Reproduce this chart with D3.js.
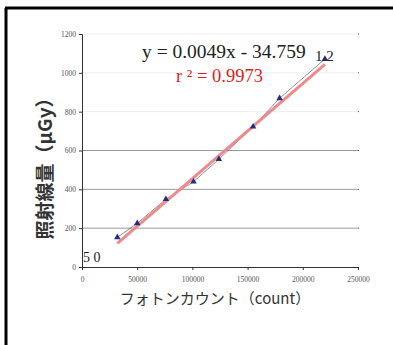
<!DOCTYPE html>
<html>
<head>
<meta charset="utf-8">
<script src="https://cdn.jsdelivr.net/npm/d3@7"></script>
<style>
  body { margin: 0; background: #fff; }
  svg { display: block; }
</style>
</head>
<body>
<div id="chart"></div>
<script>
// photon counts vs dose
const counts = [32000, 50000, 76000, 101000, 124000, 155000, 179000, 220000];
const doses = [153, 225, 349, 439, 555, 723, 869, 1071];
const xTicks = [0, 50000, 100000, 150000, 200000, 250000];
const yTicks = [0, 200, 400, 600, 800, 1000, 1200];
const slope = 0.0049;
const intercept = -34.759;

const w = 393;
const h = 345;
const svg = d3
  .select("#chart")
  .append("svg")
  .attr("width", w)
  .attr("height", h);

// frame (left + top edges visible)
svg.append("line").attr("x1", 6).attr("y1", 8).attr("x2", 6).attr("y2", h).attr("stroke", "#000").attr("stroke-width", 3);
svg.append("line").attr("x1", 5).attr("y1", 8).attr("x2", w).attr("y2", 8).attr("stroke", "#000").attr("stroke-width", 3);

const x = d3.scaleLinear().domain([0, 250000]).range([82, 358]);
const y = d3.scaleLinear().domain([0, 1200]).range([267, 34]);

// gridlines
svg
  .selectAll(".grid")
  .data(yTicks.slice(1))
  .enter()
  .append("line")
  .attr("x1", x(0))
  .attr("x2", x(250000))
  .attr("y1", d => y(d))
  .attr("y2", d => y(d))
  .attr("stroke", d => (d >= 800 ? "#eeeeee" : "#999"))
  .attr("stroke-width", 1);

// right side tick dots
svg
  .selectAll(".rt")
  .data(yTicks.slice(1))
  .enter()
  .append("line")
  .attr("x1", x(250000))
  .attr("x2", x(250000) + 1)
  .attr("y1", d => y(d))
  .attr("y2", d => y(d))
  .attr("stroke", "#555");

const xAxis = svg
  .append("g")
  .attr("transform", `translate(0,${y(0)})`)
  .call(d3.axisBottom(x).tickValues(xTicks).tickSize(3).tickFormat(d3.format("d")));
const yAxis = svg
  .append("g")
  .attr("transform", `translate(${x(0)},0)`)
  .call(d3.axisLeft(y).tickValues(yTicks).tickSize(3).tickFormat(d3.format("d")));

[xAxis, yAxis].forEach(g => {
  g.select(".domain").attr("stroke", "#333");
  g.selectAll(".tick line").attr("stroke", "#333");
  g.selectAll("text")
    .attr("fill", "#555")
    .style("font-family", "Liberation Serif, serif")
    .style("font-size", "7.5px");
});
xAxis.selectAll("text").attr("dy", "1.2em");

// data line
svg
  .append("path")
  .datum(counts.map((c, i) => [c, doses[i]]))
  .attr("fill", "none")
  .attr("stroke", "#333a60")
  .attr("stroke-opacity", 0.7)
  .attr("stroke-width", 0.8)
  .attr("d", d3.line().x(d => x(d[0])).y(d => y(d[1])));

// trend line
const x0 = counts[0];
const x1 = counts[counts.length - 1];
svg
  .append("line")
  .attr("x1", x(x0))
  .attr("y1", y(slope * x0 + intercept))
  .attr("x2", x(x1))
  .attr("y2", y(slope * x1 + intercept))
  .attr("stroke", "#f08a8a")
  .attr("stroke-width", 3);

// markers
svg
  .selectAll(".pt")
  .data(counts)
  .enter()
  .append("path")
  .attr("d", d3.symbol(d3.symbolTriangle, 18))
  .attr("transform", (d, i) => `translate(${x(d)},${y(doses[i])})`)
  .attr("fill", "#1f2f7a");

// equation text
svg.append("text")
  .attr("x", 142).attr("y", 58)
  .style("font-family", "Liberation Serif, serif")
  .style("font-size", "19.5px")
  .attr("fill", "#222")
  .text("y = 0.0049x - 34.759");
svg.append("text")
  .attr("x", 176).attr("y", 82)
  .style("font-family", "Liberation Serif, serif")
  .style("font-size", "18.5px")
  .attr("fill", "#e01e1e")
  .text("r ² = 0.9973");

// point labels
svg.append("text")
  .attr("x", 315).attr("y", 61)
  .style("font-family", "Liberation Serif, serif")
  .style("font-size", "15px")
  .attr("fill", "#222")
  .text("1.2");
svg.append("text")
  .attr("x", 83).attr("y", 262)
  .style("font-family", "Liberation Serif, serif")
  .style("font-size", "14px")
  .attr("fill", "#222")
  .text("5 0");

// axis titles
svg.append("text")
  .attr("transform", "translate(52,164) rotate(-90)")
  .attr("text-anchor", "middle")
  .style("font-family", "Noto Sans CJK JP, serif")
  .style("font-size", "19px")
  .style("font-weight", "bold")
  .attr("fill", "#333")
  .text("照射線量（μGy）");
svg.append("text")
  .attr("x", 215).attr("y", 304)
  .attr("text-anchor", "middle")
  .style("font-family", "Noto Sans CJK JP, serif")
  .style("font-size", "15px")
  .attr("fill", "#333")
  .text("フォトンカウント（count）");
</script>
</body>
</html>
